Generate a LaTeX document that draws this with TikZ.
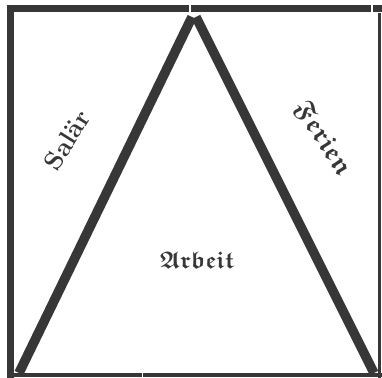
\documentclass[tikz,border=0pt]{standalone}
\usepackage{amssymb}
\definecolor{ink}{RGB}{55,55,55}
\newcommand{\fraktext}[1]{{\boldmath$\mathfrak{#1}$}}

\begin{document}
\begin{tikzpicture}[x=0.5pt,y=-0.5pt,
  rim/.style={draw=ink,line cap=butt},
  side/.style={draw=ink,line width=4.8pt,line cap=butt},
  word/.style={text=ink,inner sep=0pt}
]
\useasboundingbox (0,0) rectangle (382,378);
% frame pieces
\draw[rim,line width=3.5pt] (7,9) -- (189,9);
\draw[rim,line width=3.5pt] (191,9) -- (371,9);
\draw[rim,line width=3.5pt] (373,9) -- (382,9);
\draw[rim,line width=3.5pt] (10.5,5) -- (10.5,378);
\draw[rim,line width=1.5pt] (380,13) -- (380,378);
\draw[rim,line width=2pt] (7,375) -- (142,375);
\draw[rim,line width=2pt] (143.5,375) -- (382,375);
% triangle
\coordinate (apexl) at (192,17);
\coordinate (apexr) at (196,17);
\coordinate (basel) at (19,373);
\coordinate (baser) at (374,373);
\draw[side] (basel) -- (apexl);
\draw[side] (apexr) -- (baser);
% labels
\node[word,font=\fontsize{13}{15}\selectfont\bfseries,rotate=58] (salaer) at (67,140) {Salär};
\node[word,font=\fontsize{13.5}{15}\selectfont,rotate=-57] (ferien) at (323,139) {\fraktext{Ferien}};
\node[word,font=\large] (arbeit) at (197,260) {\fraktext{Arbeit}};
\end{tikzpicture}
\end{document}
